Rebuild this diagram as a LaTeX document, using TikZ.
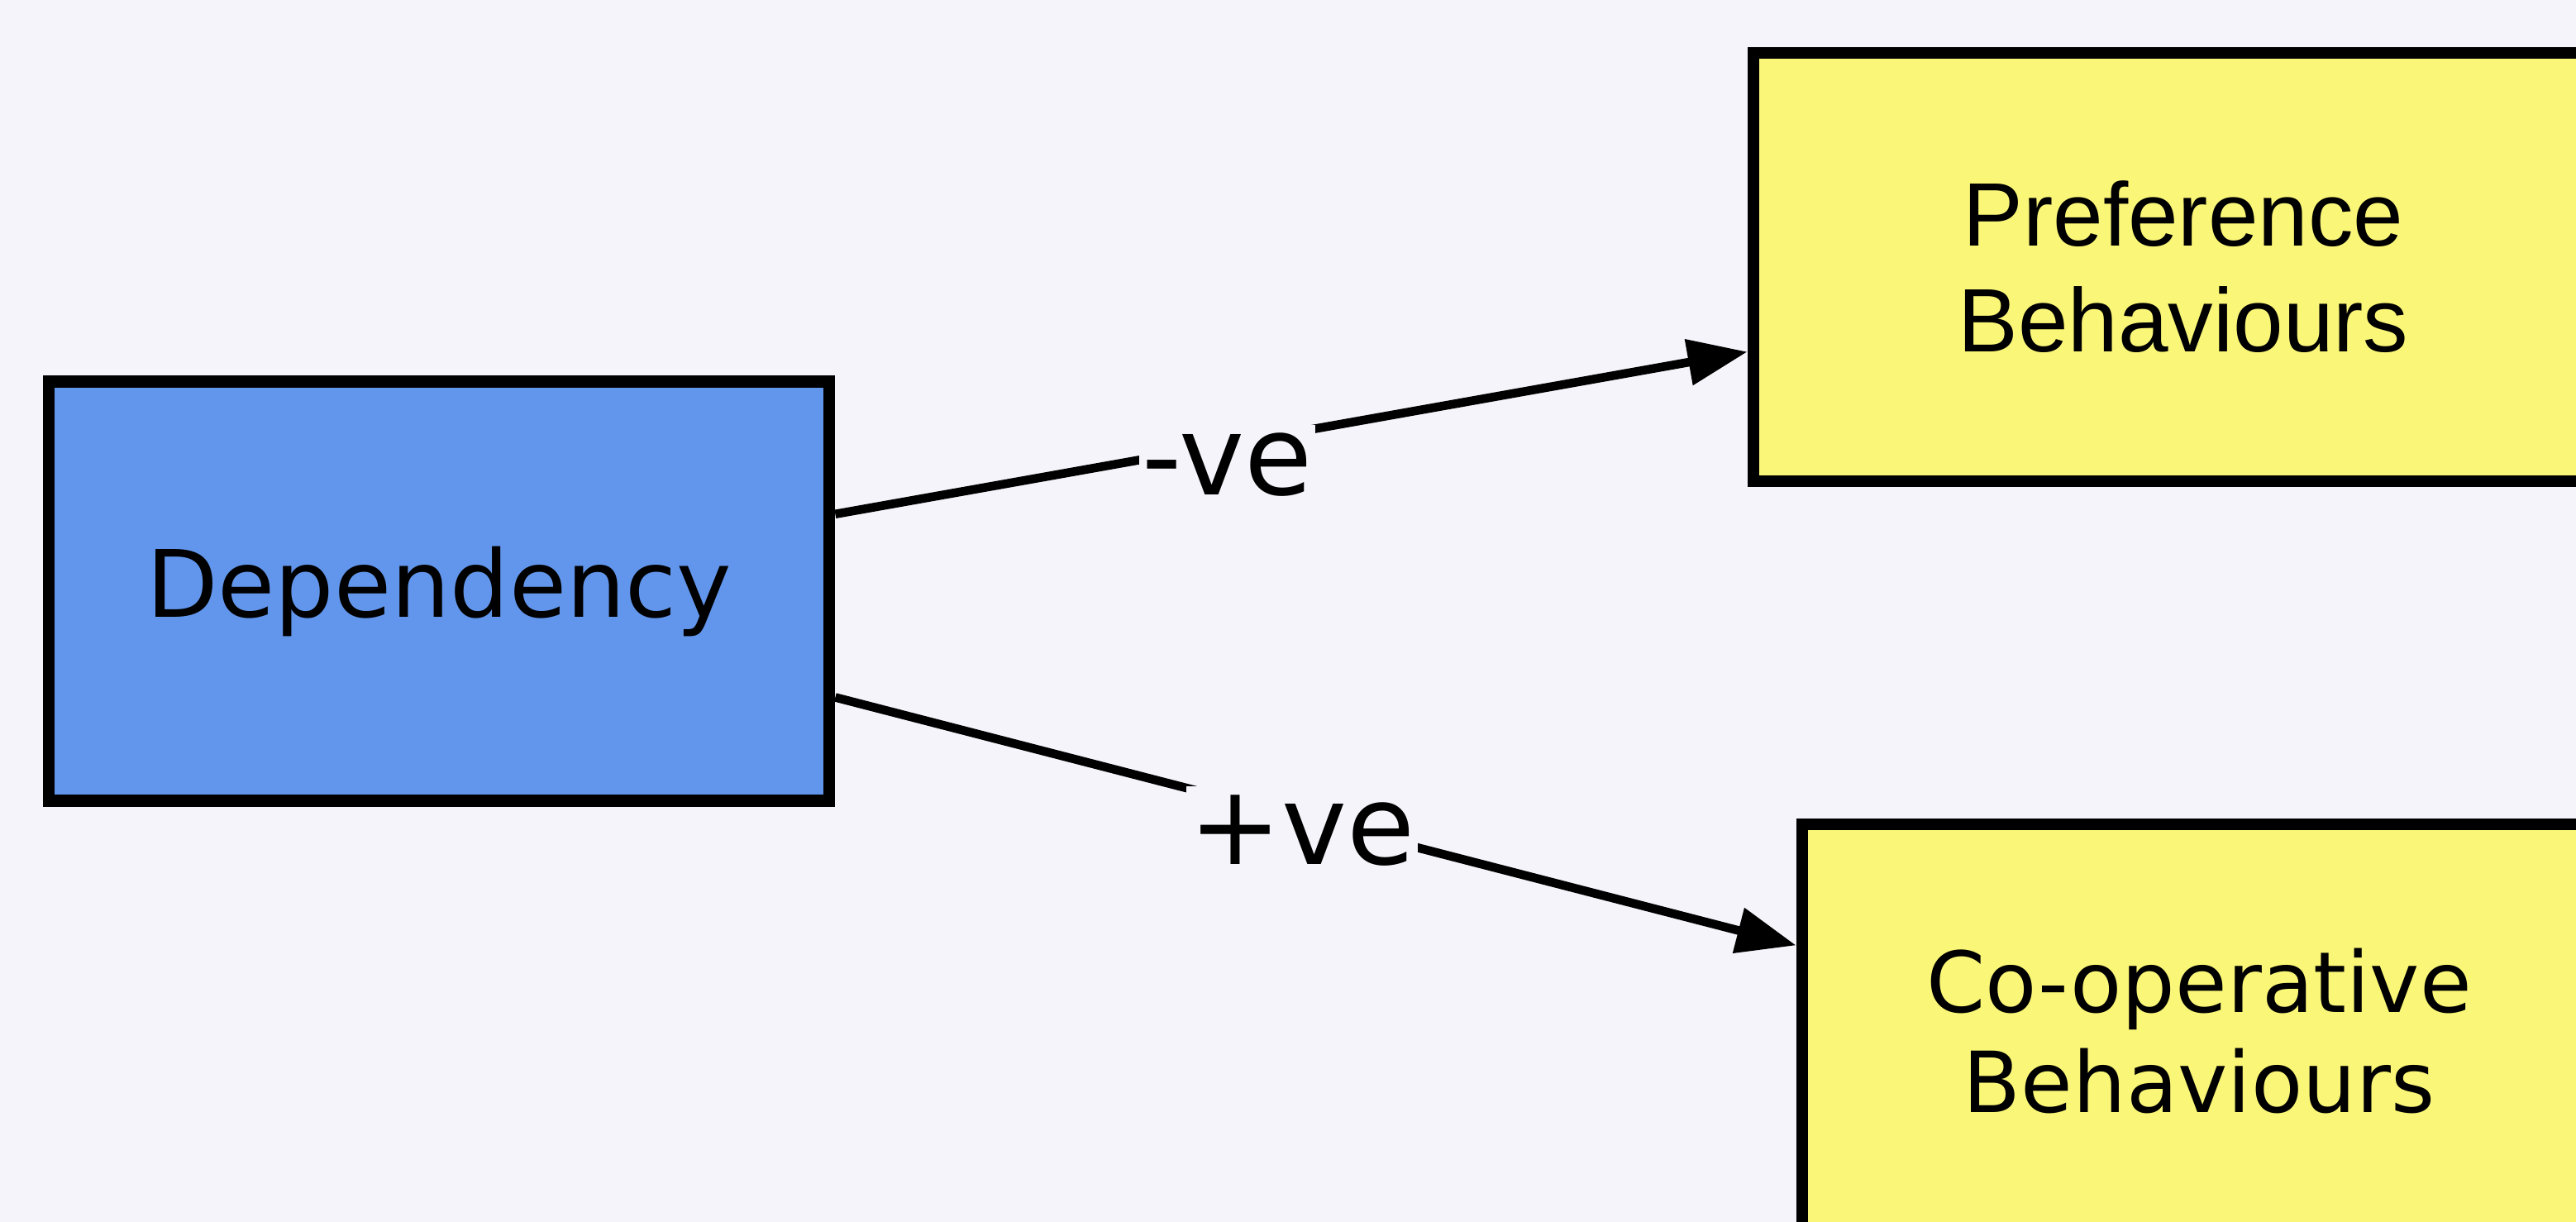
\documentclass[tikz,border=0pt]{standalone}
\usepackage{fontspec}
\setmainfont{DejaVu Sans}
\newfontfamily\arialfont{Liberation Sans}
\usetikzlibrary{arrows.meta, positioning}

\definecolor{pagebg}{RGB}{244,244,250}
\definecolor{depblue}{RGB}{98,150,236}
\definecolor{behyellow}{RGB}{250,246,120}

\begin{document}
\begin{tikzpicture}[
    box/.style={draw=black, line width=4.2pt, align=center, inner sep=0pt},
    link/.style={line width=3pt, -{Triangle[length=0.72cm, width=0.54cm]}},
    sign/.style={fill=pagebg, inner xsep=1pt, inner ysep=3pt, font=\fontsize{38}{40}\selectfont}
]
    % Define the page
    \fill[pagebg] (0,0) rectangle (31.16,14.78);
    \useasboundingbox (0,0) rectangle (31.16,14.78);
    \clip (0,0) rectangle (31.16,14.78);

    % Draw boxes
    \node[box, fill=depblue, minimum width=9.44cm, minimum height=5.07cm,
          font=\fontsize{32}{38}\selectfont] (dep) at (5.31, 7.63) {Dependency};
    \node[box, fill=behyellow, minimum width=10.4cm, minimum height=5.18cm,
          font=\arialfont\fontsize{31}{36.4}\selectfont] (pref) at (26.41, 11.55) {Preference\\Behaviours};
    \node[box, fill=behyellow, minimum width=9.6cm, minimum height=5.0cm,
          font=\fontsize{29}{34.7}\selectfont] (coop) at (26.60, 2.31) {Co-operative\\Behaviours};

    % Draw connections
    \draw[link] (dep.11) -- node[sign, pos=0.43, yshift=-0.25cm] {-ve} (pref.191);
    \draw[link] (dep.-15) -- node[sign, pos=0.486, yshift=-0.15cm] {+ve} (coop.168);
\end{tikzpicture}
\end{document}
